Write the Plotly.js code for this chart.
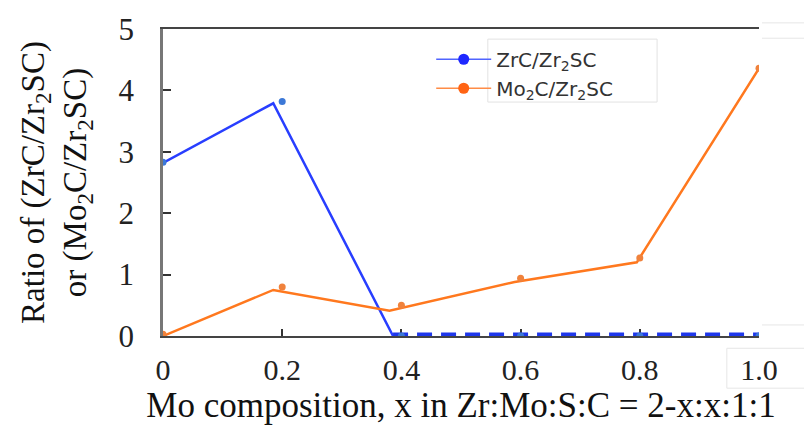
<!DOCTYPE html>
<html>
<head>
<meta charset="utf-8">
<script src="https://cdn.plot.ly/plotly-3.0.1.min.js"></script>
<style>html,body{margin:0;padding:0;background:#fff;}#chart{width:804px;height:426px;}</style>
</head>
<body>
<div id="chart"></div>
<script>
// Mo composition x
const moX = [0, 0.2, 0.4, 0.6, 0.8, 1.0];
const xTickText = ["0", "0.2", "0.4", "0.6", "0.8", "1.0"];
const yTickVals = [0, 1, 2, 3, 4, 5];

// ZrC/Zr2SC : point markers and drawn line path
const zrcMarkerY = [2.83, 3.82, 0, 0, 0, 0];
const zrcLineX = [0, 0.185, 0.386];
const zrcLineY = [2.82, 3.79, 0];
const zrcDashX = [0.386, 0.6, 0.8, 1.0];
const zrcDashY = [0, 0, 0, 0];

// Mo2C/Zr2SC : point markers and drawn line path
const mo2cMarkerY = [0.03, 0.8, 0.5, 0.94, 1.27, 4.36];
const mo2cLineX = [0, 0.185, 0.38, 0.59, 0.795, 1.0];
const mo2cLineY = [0, 0.75, 0.41, 0.88, 1.2, 4.36];

const seriesNames = ["ZrC/Zr<sub>2</sub>SC", "Mo<sub>2</sub>C/Zr<sub>2</sub>SC"];

const blue = "rgb(40,62,255)";
const blueMk = "rgb(60,120,215)";
const orange = "rgb(255,120,30)";

const traces = [
  {x: zrcLineX, y: zrcLineY, mode: "lines", line: {color: blue, width: 2.5}, showlegend: false, hoverinfo: "skip"},
  {x: zrcDashX, y: zrcDashY, mode: "lines", line: {color: "rgb(30,55,235)", width: 7, dash: "15px,9px"}, showlegend: false},
  {x: moX, y: zrcMarkerY, mode: "markers", marker: {color: blueMk, size: 7}, showlegend: false, cliponaxis: true},
  {x: mo2cLineX, y: mo2cLineY, mode: "lines", line: {color: orange, width: 2.5}, showlegend: false},
  {x: moX, y: mo2cMarkerY, mode: "markers", marker: {color: "rgb(240,130,60)", size: 7}, showlegend: false, cliponaxis: true},
  {x: [null], y: [null], mode: "lines+markers", name: seriesNames[0], line: {color: "rgb(80,100,255)", width: 1.5}, marker: {color: "rgb(30,40,255)", size: 11}},
  {x: [null], y: [null], mode: "lines+markers", name: seriesNames[1], line: {color: "rgb(255,140,70)", width: 1.5}, marker: {color: "rgb(255,100,20)", size: 11}}
];

const serif = "Liberation Serif, Times New Roman, serif";

const layout = {
  width: 804, height: 426,
  margin: {l: 163, r: 45, t: 29, b: 90},
  paper_bgcolor: "#fff", plot_bgcolor: "#fff",
  showlegend: true,
  legend: {x: 0.45, y: 0.965, xanchor: "left", yanchor: "top", bgcolor: "rgba(0,0,0,0)", borderwidth: 0,
           itemwidth: 55,
           font: {family: "DejaVu Sans, Liberation Sans, sans-serif", size: 20, color: "#333"}},
  xaxis: {
    range: [0, 1], tickvals: moX, ticktext: xTickText,
    showgrid: false, zeroline: false, layer: "below traces",
    showline: true, linecolor: "#444", linewidth: 2, mirror: true,
    ticks: "inside", ticklen: 7, tickcolor: "#333", tickwidth: 1.5,
    ticklabelstandoff: 6,
    tickfont: {family: serif, size: 30, color: "#222"},
    title: {text: "Mo composition, x in Zr:Mo:S:C = 2-x:x:1:1", font: {family: serif, size: 35, color: "#111"}, standoff: 6}
  },
  yaxis: {
    range: [0, 5], tickvals: yTickVals,
    showgrid: false, zeroline: false, layer: "below traces",
    showline: true, linecolor: "#777", linewidth: 2.5, mirror: false,
    ticks: "inside", ticklen: 8, tickcolor: "#333", tickwidth: 1.5,
    ticklabelstandoff: 20,
    tickfont: {family: serif, size: 31, color: "#222"},
    title: {text: "Ratio of (ZrC/Zr<sub>2</sub>SC)<br>or (Mo<sub>2</sub>C/Zr<sub>2</sub>SC)", font: {family: serif, size: 33, color: "#111"}, standoff: 22}
  },
  yaxis2: {range: [0, 5], overlaying: "y", side: "right", showline: true, linecolor: "#111", linewidth: 2.5,
           showticklabels: false, ticks: "", showgrid: false, zeroline: false},
  shapes: [
    {type: "rect", xref: "paper", yref: "paper", x0: 0.545, x1: 0.829, y0: 0.762, y1: 0.967, line: {color: "#e2e2e2", width: 1}},
    {type: "line", xref: "paper", yref: "paper", x0: 1.005, x1: 1.08, y0: 0.97, y1: 0.97, line: {color: "#e6e6e6", width: 1}},
    {type: "line", xref: "paper", yref: "paper", x0: 1.005, x1: 1.08, y0: 1.02, y1: 1.02, line: {color: "#e6e6e6", width: 1}},
    {type: "line", xref: "paper", yref: "paper", x0: 1.005, x1: 1.08, y0: 0.036, y1: 0.036, line: {color: "#e6e6e6", width: 1}},
    {type: "rect", xref: "paper", yref: "paper", x0: 0.946, x1: 1.08, y0: -0.04, y1: -0.17, line: {color: "#e6e6e6", width: 1}}
  ]
};

Plotly.newPlot("chart", traces, layout, {displayModeBar: false});
</script>
</body>
</html>
